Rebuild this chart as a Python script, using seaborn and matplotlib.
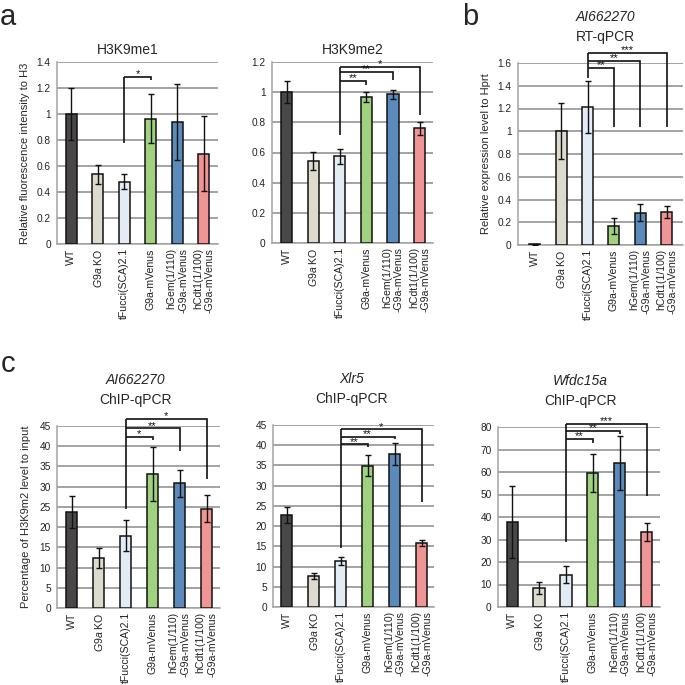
import matplotlib
matplotlib.use("Agg")
import matplotlib.pyplot as plt
import numpy as np
import pandas as pd
import seaborn as sns

# categories (same for all panels)
groups = ['WT', 'G9a KO', 'tFucci(SCA)2.1', 'G9a-mVenus', 'hGem', 'hCdt1']
tick_labels = ['WT', r'$\it{G9a}$ KO', 'tFucci(SCA)2.1', 'G9a-mVenus',
               'hGem(1/110)\n-G9a-mVenus', 'hCdt1(1/100)\n-G9a-mVenus']
colors = ['#4b4646', '#e1dccb', '#e0ecf7', '#9ddf70', '#4a8cca', '#ff8585']

# panel a
me1_mean = [1.0, 0.535, 0.48, 0.965, 0.94, 0.695]
me1_err = [0.2, 0.07, 0.057, 0.19, 0.29, 0.29]
me2_mean = [1.0, 0.545, 0.575, 0.965, 0.985, 0.76]
me2_err = [0.073, 0.06, 0.05, 0.033, 0.028, 0.043]
# panel b
rt_mean = [0.005, 1.0, 1.21, 0.165, 0.285, 0.29]
rt_err = [0.003, 0.245, 0.228, 0.07, 0.073, 0.056]
# panel c
ai_mean = [23.8, 12.3, 17.9, 33.2, 30.8, 24.6]
ai_err = [3.9, 2.5, 3.8, 6.7, 3.3, 3.3]
xlr_mean = [22.8, 7.7, 11.4, 34.9, 37.8, 15.8]
xlr_err = [2.0, 0.7, 0.9, 2.6, 2.7, 0.8]
wf_mean = [37.6, 8.4, 14.4, 59.6, 64.0, 33.3]
wf_err = [16.0, 2.6, 3.7, 8.6, 12.2, 3.9]

# significance brackets: (right group index, line level, right leg end, stars); left leg end
me1_sig = [(3, 1.287, 1.26, '*')]
me1_left = 0.775
me2_sig = [(3, 1.075, 1.05, '**'), (4, 1.135, 1.08, '**'), (5, 1.17, 0.85, '*')]
me2_left = 0.716
rt_sig = [(3, 1.553, 1.04, '**'), (4, 1.62, 1.04, '**'), (5, 1.685, 1.04, '***')]
rt_left = 1.47
ai_sig = [(3, 42.4, 41.5, '*'), (4, 44.4, 38.7, '**'), (5, 46.7, 32.0, '*')]
ai_left = 24.6
xlr_sig = [(3, 40.2, 39.5, '**'), (4, 42.1, 41.5, '**'), (5, 43.9, 26.0, '*')]
xlr_left = 14.5
wf_sig = [(3, 74.7, 73.0, '**'), (4, 78.4, 76.9, '**'), (5, 81.2, 49.3, '***')]
wf_left = 29.0

sns.set_style("white")
plt.rcParams['font.family'] = ['Liberation Sans', 'DejaVu Sans']
plt.rcParams['mathtext.fontset'] = 'custom'
plt.rcParams['mathtext.rm'] = 'Liberation Sans'
plt.rcParams['mathtext.it'] = 'Liberation Sans:italic'

fig = plt.figure(figsize=(6.85, 6.85), dpi=100)
W = H = 685.0


def make_ax(x0, x1, ytop, ybot):
    return fig.add_axes([x0 / W, 1 - ybot / H, (x1 - x0) / W, (ybot - ytop) / H])


def draw(ax, mean, err, ylim, yticks, ytl, sig, left_end, xlim):
    df = pd.DataFrame({'group': groups, 'value': mean})
    sns.barplot(data=df, x='group', y='value', hue='group', palette=colors,
                width=0.42, edgecolor='#111111', linewidth=1.1,
                errorbar=None, legend=False, ax=ax, zorder=3)
    ax.errorbar(np.arange(len(mean)), mean, yerr=err, fmt='none',
                ecolor='#111111', elinewidth=1.0, capsize=2.2, capthick=1.0, zorder=4)
    ax.set_ylim(*ylim)
    ax.set_xlim(*xlim)
    ax.set_yticks(yticks)
    ax.set_yticklabels(ytl, fontsize=7.3)
    ax.set_xticks(range(len(groups)))
    ax.set_xticklabels(tick_labels, rotation=90, fontsize=7.6, ma='right')
    ax.set_xlabel('')
    ax.set_ylabel('')
    ax.grid(axis='y', color='#a3a3a3', linewidth=1.4, zorder=0)
    ax.set_axisbelow(True)
    for s in ['top', 'right']:
        ax.spines[s].set_visible(False)
    for s in ['left', 'bottom']:
        ax.spines[s].set_color('#a3a3a3')
        ax.spines[s].set_linewidth(1.1)
    ax.tick_params(axis='y', length=2.5, color='#a3a3a3', pad=2, labelcolor='#222222')
    ax.tick_params(axis='x', length=0, pad=3, labelcolor='#222222')
    # brackets
    if sig:
        top = max(s[1] for s in sig)
        ax.plot([2, 2], [left_end, top], color='#111111', lw=1.2, clip_on=False,
                solid_capstyle='butt')
        span = ylim[1] - ylim[0]
        for right, level, rend, stars in sig:
            ax.plot([2, right, right], [level, level, rend], color='#111111', lw=1.2,
                    clip_on=False, solid_capstyle='butt', solid_joinstyle='miter')
            ax.text((2 + right) / 2, level - span * 0.012, stars, ha='center',
                    va='bottom', fontsize=8, color='#111111')


def ticklabels(vals, fmt):
    return [fmt(v) for v in vals]


def fmt_dec(v):
    return '0' if v == 0 else ('%g' % round(v, 1))


TS = 10

# a: H3K9me1
ax1 = make_ax(57, 218, 62, 244)
t = np.round(np.arange(0, 1.41, 0.2), 1)
draw(ax1, me1_mean, me1_err, (0, 1.4), t, ticklabels(t, fmt_dec), me1_sig, me1_left, (-0.53, 5.53))
ax1.text(0.44, 1.066, 'H3K9me1', transform=ax1.transAxes, ha='center', va='center', fontsize=TS)
ax1.set_ylabel('Relative fluorescence intensity to H3', fontsize=8)
ax1.yaxis.set_label_coords(-0.165, 0.5)

# a: H3K9me2
ax2 = make_ax(272, 433, 62, 243)
t = np.round(np.arange(0, 1.21, 0.2), 1)
draw(ax2, me2_mean, me2_err, (0, 1.2), t, ticklabels(t, fmt_dec), me2_sig, me2_left, (-0.55, 5.5))
ax2.text(0.5, 1.066, 'H3K9me2', transform=ax2.transAxes, ha='center', va='center', fontsize=TS)

# b
ax3 = make_ax(518, 683, 63, 245)
t = np.round(np.arange(0, 1.61, 0.2), 1)
draw(ax3, rt_mean, rt_err, (0, 1.6), t, ticklabels(t, fmt_dec), rt_sig, rt_left, (-0.64, 5.62))
ax3.text(0.53, 1.253, 'AI662270', transform=ax3.transAxes, ha='center', va='center',
         fontsize=TS, style='italic')
ax3.text(0.53, 1.143, 'RT-qPCR', transform=ax3.transAxes, ha='center', va='center', fontsize=TS)
ax3.set_ylabel('Relative expression level to Hprt', fontsize=8)
ax3.yaxis.set_label_coords(-0.165, 0.5)

# c
ax4 = make_ax(57, 220, 426, 608)
t = np.arange(0, 46, 5)
draw(ax4, ai_mean, ai_err, (0, 45), t, [str(v) for v in t], ai_sig, ai_left, (-0.54, 5.5))
ax4.text(0.48, 1.253, 'AI662270', transform=ax4.transAxes, ha='center', va='center',
         fontsize=TS, style='italic')
ax4.text(0.48, 1.143, 'ChIP-qPCR', transform=ax4.transAxes, ha='center', va='center', fontsize=TS)
ax4.set_ylabel('Percentage of H3K9m2 level to input', fontsize=8)
ax4.yaxis.set_label_coords(-0.16, 0.5)

ax5 = make_ax(273, 434, 425, 607)
draw(ax5, xlr_mean, xlr_err, (0, 45), t, [str(v) for v in t], xlr_sig, xlr_left, (-0.5, 5.46))
ax5.text(0.49, 1.253, 'Xlr5', transform=ax5.transAxes, ha='center', va='center',
         fontsize=TS, style='italic')
ax5.text(0.49, 1.143, 'ChIP-qPCR', transform=ax5.transAxes, ha='center', va='center', fontsize=TS)

ax6 = make_ax(498, 660, 427, 607)
t = np.arange(0, 81, 10)
draw(ax6, wf_mean, wf_err, (0, 80), t, [str(v) for v in t], wf_sig, wf_left, (-0.53, 5.5))
ax6.text(0.51, 1.253, 'Wfdc15a', transform=ax6.transAxes, ha='center', va='center',
         fontsize=TS, style='italic')
ax6.text(0.51, 1.143, 'ChIP-qPCR', transform=ax6.transAxes, ha='center', va='center', fontsize=TS)

# panel letters
fig.text(0 / W, 1 - 25 / H, 'a', fontsize=21, va='baseline', ha='left')
fig.text(462 / W, 1 - 25 / H, 'b', fontsize=21, va='baseline', ha='left')
fig.text(1 / W, 1 - 372 / H, 'c', fontsize=21, va='baseline', ha='left')

fig.savefig('out.png', dpi=100)
